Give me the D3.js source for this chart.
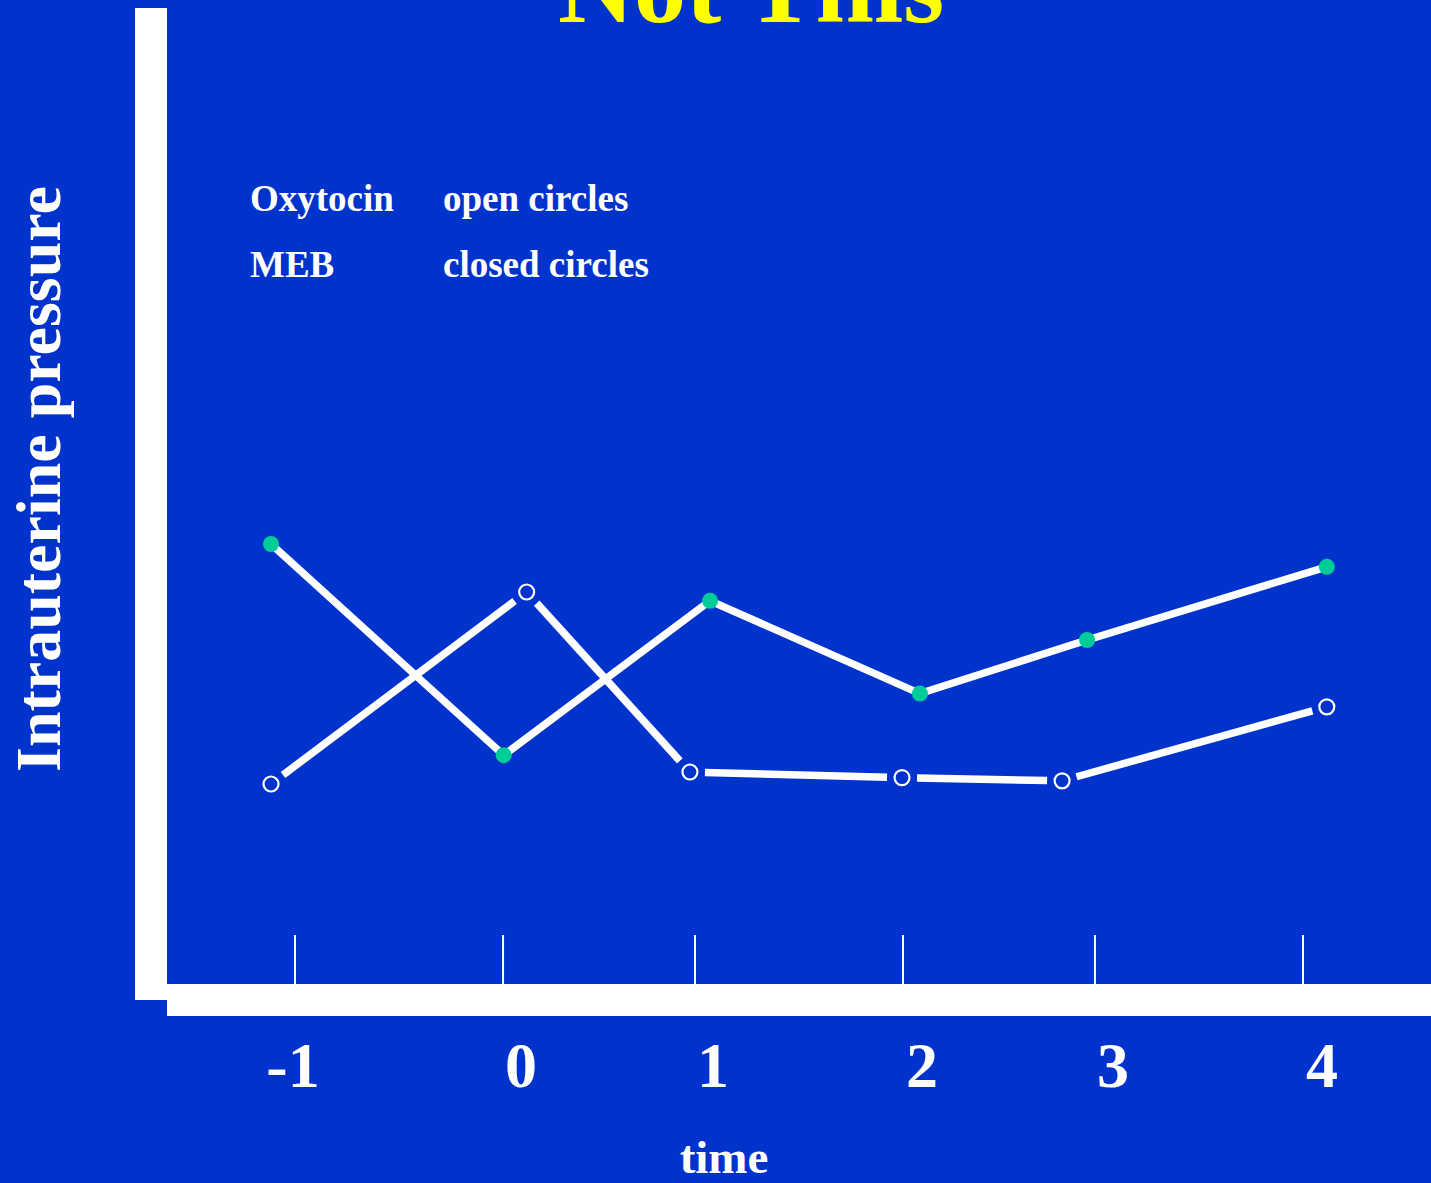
<!DOCTYPE html>
<html>
<head>
<meta charset="utf-8">
<script src="https://cdn.jsdelivr.net/npm/d3@7"></script>
<style>
  html, body { margin: 0; padding: 0; background: #0033cc; }
  svg { display: block; }
  text { font-family: "Liberation Serif", "Times New Roman", serif; font-weight: bold; }
</style>
</head>
<body>
<svg id="chart" width="1431" height="1183"></svg>
<script>
// Time (x) and pressure (y, arbitrary units) for each series
const oxytocinTime   = [-1.119, 0.149, 0.959, 2.011, 2.805, 4.118];
const oxytocinValues = [25.0, 49.0, 26.5, 25.8, 25.4, 34.65];
const mebTime        = [-1.119, 0.035, 1.059, 2.100, 2.929, 4.118];
const mebValues      = [55.0, 28.6, 47.9, 36.3, 43.0, 52.15];

// Axis ticks and their labels
const tickTimes  = [-1, 0.032, 0.984, 2.016, 2.968, 4];
const tickLabels = ["-1", "0", "1", "2", "3", "4"];
const labelTimes = [-1.01, 0.121, 1.073, 2.11, 3.058, 4.094];

const legendNames = ["Oxytocin", "MEB"];
const legendDesc  = ["open circles", "closed circles"];

const svg = d3.select("#chart");
const W = 1431, H = 1183;

svg.append("rect").attr("width", W).attr("height", H).attr("fill", "#0033cc");

const x = d3.scaleLinear().domain([-1, 4]).range([295, 1303]);
const y = d3.scaleLinear().domain([0, 100]).range([984, 184]);

// Title, partly above the top edge
svg.append("text")
  .attr("x", 751).attr("y", 22)
  .attr("text-anchor", "middle")
  .attr("font-size", 105)
  .attr("fill", "#ffff00")
  .text("Not This");

// Thick axis bars
svg.append("rect").attr("x", 135).attr("y", 8).attr("width", 32).attr("height", 992).attr("fill", "#fff");
svg.append("rect").attr("x", 167).attr("y", 984).attr("width", W - 167).attr("height", 32).attr("fill", "#fff");

// Tick marks
svg.append("g").selectAll("line").data(tickTimes).join("line")
  .attr("x1", d => x(d)).attr("x2", d => x(d))
  .attr("y1", 935).attr("y2", 984)
  .attr("stroke", "#fff").attr("stroke-width", 2);

// Tick labels
svg.append("g").selectAll("text").data(tickLabels).join("text")
  .attr("x", (d, i) => x(labelTimes[i])).attr("y", 1087)
  .attr("text-anchor", "middle")
  .attr("font-size", 64)
  .attr("fill", "#fff")
  .text(d => d);

// Axis titles
svg.append("text")
  .attr("x", 724).attr("y", 1173)
  .attr("text-anchor", "middle")
  .attr("font-size", 47)
  .attr("fill", "#fff")
  .text("time");

svg.append("text")
  .attr("transform", "translate(60,479) rotate(-90)")
  .attr("text-anchor", "middle")
  .attr("font-size", 64)
  .attr("fill", "#fff")
  .text("Intrauterine pressure");

// Legend text
const leg = svg.append("g");
legendNames.forEach((n, i) => {
  leg.append("text").attr("x", 250).attr("y", 211 + i * 66)
    .attr("font-size", 37).attr("fill", "#fff").text(n);
  leg.append("text").attr("x", 443).attr("y", 211 + i * 66)
    .attr("font-size", 37).attr("fill", "#fff").text(legendDesc[i]);
});

const oxy = oxytocinTime.map((t, i) => ({ t, v: oxytocinValues[i] }));
const meb = mebTime.map((t, i) => ({ t, v: mebValues[i] }));

// MEB: continuous line through the points
const line = d3.line().x(d => x(d.t)).y(d => y(d.v));
svg.append("path").datum(meb)
  .attr("d", line)
  .attr("fill", "none")
  .attr("stroke", "#fff")
  .attr("stroke-width", 7.5)
  .attr("stroke-linejoin", "miter");

// Oxytocin: segments that stop short of each open circle
const gap = 15;
const segs = d3.pairs(oxy).map(([a, b]) => {
  const x1 = x(a.t), y1 = y(a.v), x2 = x(b.t), y2 = y(b.v);
  const len = Math.hypot(x2 - x1, y2 - y1);
  const ux = (x2 - x1) / len, uy = (y2 - y1) / len;
  return { x1: x1 + ux * gap, y1: y1 + uy * gap, x2: x2 - ux * gap, y2: y2 - uy * gap };
});
svg.append("g").selectAll("line").data(segs).join("line")
  .attr("x1", d => d.x1).attr("y1", d => d.y1)
  .attr("x2", d => d.x2).attr("y2", d => d.y2)
  .attr("stroke", "#fff").attr("stroke-width", 7.5);

// Markers
svg.append("g").selectAll("circle").data(meb).join("circle")
  .attr("cx", d => x(d.t)).attr("cy", d => y(d.v)).attr("r", 8)
  .attr("fill", "#00cc99");

svg.append("g").selectAll("circle").data(oxy).join("circle")
  .attr("cx", d => x(d.t)).attr("cy", d => y(d.v)).attr("r", 7.5)
  .attr("fill", "#0033cc").attr("stroke", "#fff").attr("stroke-width", 2.2);
</script>
</body>
</html>
